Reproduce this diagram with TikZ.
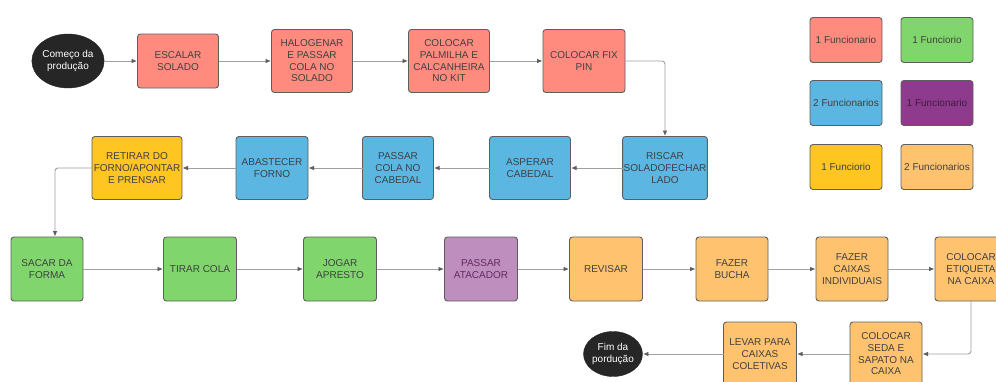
\documentclass[tikz,border=0pt]{standalone}
\usepackage{fontspec}
\setmainfont{Liberation Sans}
\usetikzlibrary{shapes.geometric,arrows.meta}
\definecolor{salmon}{HTML}{FF8B7F}
\definecolor{skyb}{HTML}{5CB6E2}
\definecolor{yell}{HTML}{FFC520}
\definecolor{lorange}{HTML}{FFC36F}
\definecolor{grn}{HTML}{80D66C}
\definecolor{purp}{HTML}{8F3B8D}
\definecolor{lpurp}{HTML}{BE8EBE}
\definecolor{txt}{HTML}{404040}
\definecolor{edge}{HTML}{5E5E5E}
\definecolor{conn}{HTML}{A0A0A0}
\tikzset{
  box/.style={draw=edge, line width=0.9pt, rounded corners=3pt, align=center,
    font=\fontsize{10}{11.7}\selectfont, text=txt, inner sep=1pt, outer sep=0pt},
  w/.style={minimum width=#1pt},
  h/.style={minimum height=#1pt},
  term/.style={ellipse, fill=black!85, draw=black!85, text=white, align=center,
    font=\fontsize{10}{11.7}\selectfont, inner sep=0pt, outer sep=0pt},
  flow/.style={draw=conn, line width=0.9pt, rounded corners=3pt,
    -{Triangle[length=5pt,width=4pt,fill=edge,color=edge]}, shorten >=1pt},
  legend/.style={box, minimum width=72pt, minimum height=45pt, font=\fontsize{10}{12}\selectfont}
}
\begin{document}
\begin{tikzpicture}[x=1pt,y=-1pt]
\useasboundingbox (0,0) rectangle (996,381);
\clip (0,0) rectangle (996,381);
\fill[white] (0,0) rectangle (996,381);
% Row 1
\node[term, minimum width=63pt, minimum height=54pt] (start) at (68,61) {Começo da\\produção};
\node[box, fill=salmon, w=81, h=54] (escalar) at (178,61) {ESCALAR\\SOLADO};
\node[box, fill=salmon, w=81, h=63] (halog) at (312,61) {HALOGENAR\\E PASSAR\\COLA NO\\SOLADO};
\node[box, fill=salmon, w=81, h=63] (palm) at (449,61) {COLOCAR\\PALMILHA E\\CALCANHEIRA\\NO KIT};
\node[box, fill=salmon, w=82, h=63] (fixpin) at (584,61) {COLOCAR FIX\\PIN};
% Row 2
\node[box, fill=skyb, w=81, h=63] (riscar) at (665,168) {RISCAR\\SOLADOFECHAR\\LADO};
\node[box, fill=skyb, w=81, h=63] (asperar) at (530,168) {ASPERAR\\CABEDAL};
\node[box, fill=skyb, w=71, h=63] (passcola) at (398,168) {PASSAR\\COLA NO\\CABEDAL};
\node[box, fill=skyb, w=72, h=63] (abast) at (272,168) {ABASTECER\\FORNO};
\node[box, fill=yell, w=90, h=63] (retirar) at (137,168) {RETIRAR DO\\FORNO/APONTAR\\E PRENSAR};
% Row 3
\node[box, fill=grn, w=72, h=64] (sacar) at (47,269) {SACAR DA\\FORMA};
\node[box, fill=grn, w=73, h=64] (tirar) at (200,269) {TIRAR COLA};
\node[box, fill=grn, w=73, h=64] (jogar) at (340,269) {JOGAR\\APRESTO};
\node[box, fill=lpurp, w=73, h=64, text=purp!70!black] (atac) at (481,269) {PASSAR\\ATACADOR};
\node[box, fill=lorange, w=73, h=64] (revisar) at (606,269) {REVISAR};
\node[box, fill=lorange, w=72, h=64] (bucha) at (732,269) {FAZER\\BUCHA};
\node[box, fill=lorange, w=72, h=64] (caixas) at (852,269) {FAZER\\CAIXAS\\INDIVIDUAIS};
\node[box, fill=lorange, w=72, h=64] (etiq) at (971,269) {COLOCAR\\ETIQUETA\\NA CAIXA};
% Row 4
\node[box, fill=lorange, w=72, h=64] (seda) at (886,354) {COLOCAR\\SEDA E\\SAPATO NA\\CAIXA};
\node[box, fill=lorange, w=73, h=64] (levar) at (760,354) {LEVAR PARA\\CAIXAS\\COLETIVAS};
\node[term, minimum width=55pt, minimum height=45pt] (fim) at (613,354) {Fim da\\pordução};
% Legend
\node[legend, fill=salmon] (l1) at (846,40) {1 Funcionario};
\node[legend, fill=grn] (l2) at (937,40) {1 Funciorio};
\node[legend, fill=skyb] (l3) at (846,103) {2 Funcionarios};
\node[legend, fill=purp, text=purp!45!black] (l4) at (937,103) {1 Funcionario};
\node[legend, fill=yell] (l5) at (846,167) {1 Funciorio};
\node[legend, fill=lorange] (l6) at (937,167) {2 Funcionarios};
% Connectors
\draw[flow] (start) -- (escalar);
\draw[flow] (escalar) -- (halog);
\draw[flow] (halog) -- (palm);
\draw[flow] (palm) -- (fixpin);
\draw[flow] (fixpin.east) -| (riscar.north);
\draw[flow] (riscar) -- (asperar);
\draw[flow] (asperar) -- (passcola);
\draw[flow] (passcola) -- (abast);
\draw[flow] (abast) -- (retirar);
\draw[flow] (retirar.west) -| ([xshift=8pt]sacar.north);
\draw[flow] (sacar) -- (tirar);
\draw[flow] (tirar) -- (jogar);
\draw[flow] (jogar) -- (atac);
\draw[flow] (atac) -- (revisar);
\draw[flow] (revisar) -- (bucha);
\draw[flow] (bucha) -- (caixas);
\draw[flow] (caixas) -- (etiq);
\draw[flow] (etiq.south) |- (seda.east);
\draw[flow] (seda) -- (levar);
\draw[flow] (levar) -- (fim);
\end{tikzpicture}
\end{document}
